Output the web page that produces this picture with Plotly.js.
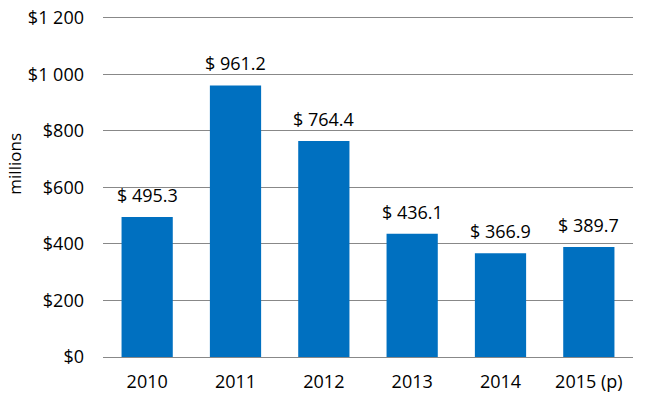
<!DOCTYPE html>
<html>
<head>
<meta charset="utf-8">
<script src="https://cdn.plot.ly/plotly-3.0.1.min.js"></script>
<style>html,body{margin:0;padding:0;background:#fff;}#chart{width:645px;height:398px;}</style>
</head>
<body>
<div id="chart"></div>
<script>
const categories = ["2010", "2011", "2012", "2013", "2014", "2015 (p)"];
const values = [495.3, 961.2, 764.4, 436.1, 366.9, 389.7];
const tickVals = [0, 200, 400, 600, 800, 1000, 1200];
const tickText = ["$0", "$200", "$400", "$600", "$800", "$1 000", "$1 200"];
const yTitle = "millions";

const font = "Open Sans, Liberation Sans, Arial, sans-serif";
const positions = categories.map((_, i) => i);

const annotations = positions.map((p, i) => ({
  x: p, y: values[i], xref: "x", yref: "y",
  text: "$ " + values[i].toFixed(1),
  showarrow: false, yanchor: "bottom", yshift: 8,
  font: {family: font, size: 18, color: "#000"}
}));
annotations.push({
  xref: "paper", yref: "paper", x: -0.166, y: 0.567,
  xanchor: "center", yanchor: "middle", textangle: -90,
  text: yTitle, showarrow: false,
  font: {family: font, size: 17, color: "#000"}
});

Plotly.newPlot("chart", [{
  type: "bar",
  x: positions,
  y: values,
  marker: {color: "#0070C0"},
  hoverinfo: "none"
}], {
  width: 645, height: 398,
  margin: {l: 103, r: 12, t: 16, b: 41},
  paper_bgcolor: "#fff", plot_bgcolor: "#fff",
  bargap: 0.42,
  showlegend: false,
  font: {family: font, size: 18, color: "#000"},
  xaxis: {
    type: "linear", range: [-0.5, 5.5],
    tickvals: positions, ticktext: categories,
    showgrid: false, zeroline: false, showline: false,
    ticks: "", ticklabelstandoff: 12,
    tickfont: {family: font, size: 18, color: "#000"}
  },
  yaxis: {
    range: [0, 1207],
    tickvals: tickVals, ticktext: tickText,
    showgrid: true, gridcolor: "#888888", gridwidth: 1,
    zeroline: true, zerolinecolor: "#888888", zerolinewidth: 1,
    showline: false, ticks: "",
    ticklabelstandoff: 18,
    tickfont: {family: font, size: 18, color: "#000"}
  },
  annotations: annotations
}, {displayModeBar: false, staticPlot: true});
</script>
</body>
</html>
